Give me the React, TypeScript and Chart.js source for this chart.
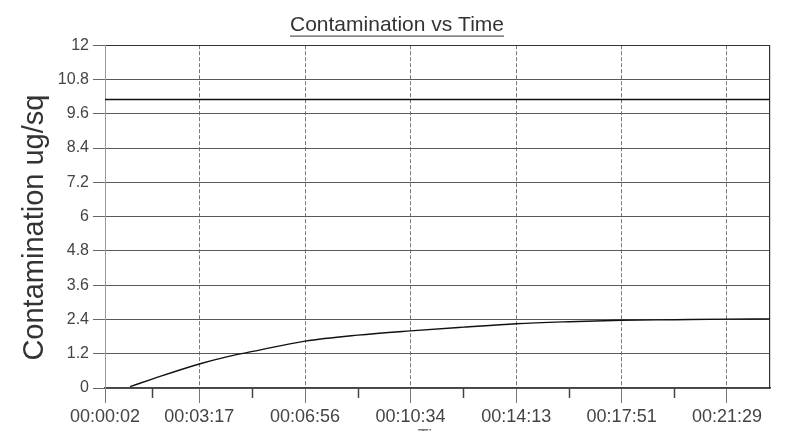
import React, { useEffect, useRef } from 'react';
import { Chart, registerables } from 'chart.js';

Chart.register(...registerables);

const chartTitle = 'Contamination vs Time';
const yAxisTitle = 'Contamination ug/sq';
const xAxisTitle = 'Time';

// time in seconds from start, contamination in ug/sq
const curveTimes = [54, 101, 197, 256, 308, 416, 525, 634, 744, 853, 962, 1071, 1180, 1289, 1378];
const curveValues = [0.05, 0.32, 0.84, 1.1, 1.28, 1.64, 1.85, 2.0, 2.13, 2.25, 2.32, 2.37, 2.39, 2.41, 2.42];
const limitTimes = [2, 1378];
const limitValues = [10.1, 10.1];

const xMin = 2;
const xMax = 1378;
const xMajorTicks = [2, 197, 416, 634, 853, 1071, 1289];
const xMinorTicks = [99.5, 306.5, 525, 743.5, 962, 1180];
const yTicks = [0, 1.2, 2.4, 3.6, 4.8, 6, 7.2, 8.4, 9.6, 10.8, 12];

const FONT = '"Liberation Sans", Arial, sans-serif';

function fmtTime(sec: number): string {
  const s = Math.round(sec);
  const h = Math.floor(s / 3600);
  const m = Math.floor((s % 3600) / 60);
  const ss = s % 60;
  const p = (n: number) => String(n).padStart(2, '0');
  return `${p(h)}:${p(m)}:${p(ss)}`;
}

const decorPlugin = {
  id: 'decor',
  afterDraw(chart: any) {
    const { ctx, chartArea } = chart;
    // title underline
    const tb = chart.titleBlock;
    ctx.save();
    ctx.font = `21px ${FONT}`;
    const w = ctx.measureText(chartTitle).width;
    const cx = (tb.left + tb.right) / 2;
    const uy = tb.top + 13 + 12.6 + 10;
    ctx.strokeStyle = '#333';
    ctx.lineWidth = 1;
    ctx.beginPath();
    ctx.moveTo(cx - w / 2, uy + 0.5);
    ctx.lineTo(cx + w / 2, uy + 0.5);
    ctx.stroke();

    // minor x ticks
    const xs = chart.scales.x;
    ctx.strokeStyle = '#444';
    ctx.lineWidth = 1.5;
    for (const v of xMinorTicks) {
      const px = Math.round(xs.getPixelForValue(v)) + 0.5;
      ctx.beginPath();
      ctx.moveTo(px, chartArea.bottom);
      ctx.lineTo(px, chartArea.bottom + 10);
      ctx.stroke();
    }

    // y axis title
    ctx.font = `29px ${FONT}`;
    ctx.fillStyle = '#333';
    ctx.textAlign = 'center';
    ctx.textBaseline = 'middle';
    ctx.translate(35, (chartArea.top + chartArea.bottom) / 2 + 11);
    ctx.rotate(-Math.PI / 2);
    ctx.fillText(yAxisTitle, 0, 0);
    ctx.restore();
  },
};

export default function App() {
  const ref = useRef<HTMLCanvasElement>(null);

  useEffect(() => {
    const canvas = ref.current;
    if (!canvas) return;
    const chart = new Chart(canvas, {
      type: 'line',
      data: {
        datasets: [
          {
            label: 'Contamination',
            data: curveTimes.map((t, i) => ({ x: t, y: curveValues[i] })),
            borderColor: '#111',
            borderWidth: 1.4,
            pointRadius: 0,
            cubicInterpolationMode: 'monotone',
            fill: false,
          },
          {
            label: 'Limit',
            data: limitTimes.map((t, i) => ({ x: t, y: limitValues[i] })),
            borderColor: '#111',
            borderWidth: 1.4,
            pointRadius: 0,
            fill: false,
          },
        ],
      },
      options: {
        animation: false,
        responsive: true,
        maintainAspectRatio: false,
        layout: { padding: { left: 4, right: 0, top: 0, bottom: 0 } },
        plugins: {
          legend: { display: false },
          tooltip: { enabled: false },
          title: {
            display: true,
            text: chartTitle,
            color: '#333',
            font: { family: FONT, size: 21, weight: 'normal' },
            padding: { top: 13, bottom: 7 },
          },
        },
        scales: {
          x: {
            type: 'linear',
            min: xMin,
            max: xMax,
            afterBuildTicks: (scale: any) => {
              scale.ticks = xMajorTicks.map((v) => ({ value: v }));
            },
            afterFit: (scale: any) => {
              scale.height = 43;
            },
            ticks: {
              autoSkip: false,
              maxRotation: 0,
              minRotation: 0,
              padding: 3,
              color: '#444',
              font: { family: FONT, size: 18 },
              callback: (v: any) => fmtTime(Number(v)),
            },
            grid: {
              color: '#7a7a7a',
              lineWidth: 1,
              tickLength: 15,
              tickColor: '#777',
            },
            border: { display: true, color: '#444', width: 1.5, dash: [4, 2] },
            title: {
              display: true,
              text: xAxisTitle,
              color: '#777',
              font: { family: FONT, size: 18 },
              padding: { top: 0, bottom: -17 },
            },
          },
          y: {
            type: 'linear',
            min: 0,
            max: 12,
            afterBuildTicks: (scale: any) => {
              scale.ticks = yTicks.map((v) => ({ value: v }));
            },
            afterFit: (scale: any) => {
              scale.width = 101;
            },
            ticks: {
              padding: 4,
              color: '#444',
              font: { family: FONT, size: 16 },
              callback: (v: any) => String(v),
            },
            grid: {
              color: (c: any) => (c.tick && c.tick.value === 12 ? '#333' : '#5a5a5a'),
              lineWidth: 1,
              tickLength: 12,
              tickColor: '#666',
            },
            border: { display: true, color: '#9a9a9a', width: 1 },
          },
          y2: {
            type: 'linear',
            position: 'right',
            min: 0,
            max: 12,
            afterFit: (scale: any) => {
              scale.width = 20;
            },
            ticks: { display: false },
            grid: { drawOnChartArea: false, drawTicks: false },
            border: { display: true, color: '#333', width: 1.2 },
          },
        },
      } as any,
      plugins: [decorPlugin],
    });
    return () => chart.destroy();
  }, []);

  return (
    <div style={{ position: 'fixed', left: 0, top: 0, width: 790, height: 431, background: '#fff' }}>
      <canvas ref={ref} />
    </div>
  );
}
